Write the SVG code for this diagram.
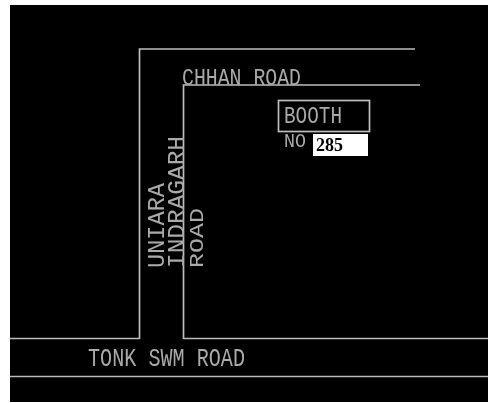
<svg xmlns="http://www.w3.org/2000/svg" width="488" height="403" viewBox="0 0 488 403">
<defs><filter id="b" x="-5%" y="-5%" width="110%" height="110%"><feGaussianBlur stdDeviation="0.55"/></filter></defs>
<style>
.l{fill:none;stroke:#bdbdbd;stroke-width:1.7}
.t{font-family:"Liberation Mono","DejaVu Sans Mono",monospace;fill:#aaaaaa}
</style>
<rect width="488" height="403" fill="#fff"/>
<g filter="url(#b)">
<rect x="10" y="5" width="480" height="397" fill="#000"/>
<g id="connectors">
<path class="l" d="M139.500 339V49H415"/>
<path class="l" d="M183.500 339V85H420"/>
<path class="l" d="M10 338.500H139.500M183.500 338.500H488"/>
<path class="l" d="M10 376.500H488"/>
</g>
<g id="booth"><rect class="l" x="278.500" y="100.500" width="91" height="31"/>
<text class="t" x="284" y="123" font-size="24" textLength="58" lengthAdjust="spacingAndGlyphs">BOOTH</text>
<text class="t" x="284" y="147" font-size="20" textLength="22" lengthAdjust="spacingAndGlyphs">NO</text>
<rect x="313" y="134" width="55" height="22" fill="#fff"/>
<text x="316" y="151" font-family="Liberation Serif,serif" font-weight="700" font-size="18" fill="#000">285</text></g>
<g id="labels">
<text class="t" x="182" y="85" font-size="23" textLength="119" lengthAdjust="spacingAndGlyphs">CHHAN ROAD</text>
<text class="t" x="88" y="366" font-size="25" textLength="157" lengthAdjust="spacingAndGlyphs">TONK SWM ROAD</text>
<text class="t" transform="translate(164 268) rotate(-90)" font-size="23" textLength="85" lengthAdjust="spacingAndGlyphs">UNIARA</text>
<text class="t" transform="translate(184 268) rotate(-90)" font-size="23" textLength="132" lengthAdjust="spacingAndGlyphs">INDRAGARH</text>
<text class="t" transform="translate(203 268) rotate(-90)" font-size="20" textLength="60" lengthAdjust="spacingAndGlyphs">ROAD</text>
</g>
</g>
</svg>
